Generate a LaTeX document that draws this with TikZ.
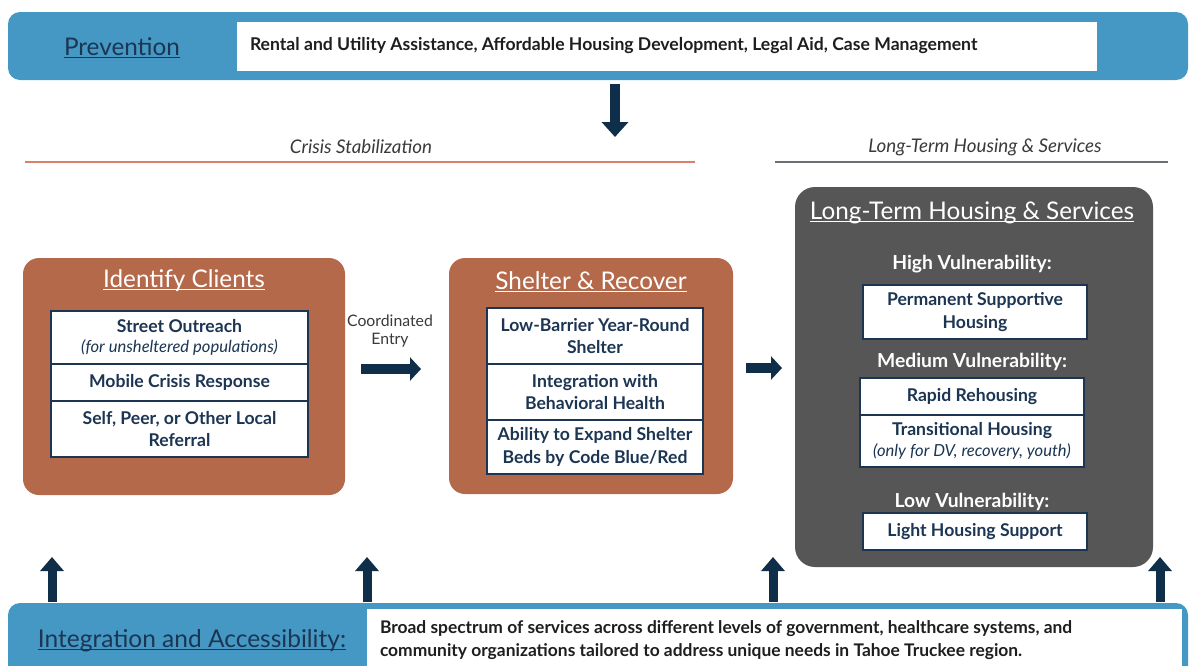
\documentclass[tikz,border=0pt]{standalone}
\usepackage{fontspec}
\setmainfont{Lato}
\usetikzlibrary{arrows.meta}
\definecolor{barblue}{HTML}{4598C3}
\definecolor{stagebrown}{HTML}{B5694B}
\definecolor{ltgray}{HTML}{565656}
\definecolor{navy}{HTML}{1C3553}
\definecolor{arrownavy}{HTML}{0E2E4A}
\definecolor{crisisline}{HTML}{D9806A}
\definecolor{ltline}{HTML}{6B7075}
\definecolor{hdrtext}{HTML}{3A3A3A}
\definecolor{bodytext}{HTML}{1E1E1E}
\newcommand\cellfnt{\bfseries\fontsize{17.6}{22.5}\selectfont}
\newcommand\subfnt{\itshape\mdseries\fontsize{16.6}{20}\selectfont}
\newcommand\titlefnt{\fontsize{24.3}{28}\selectfont}
\newcommand\myul[1]{\underline{\smash{#1}}\vphantom{#1}}
\begin{document}
\begin{tikzpicture}[x=1pt,y=-1pt,
  every node/.style={inner sep=0pt, outer sep=0pt},
  bar/.style={fill=barblue, rounded corners=12pt},
  stagebox/.style={fill=stagebrown, rounded corners=16pt},
  ltbox/.style={fill=ltgray, rounded corners=20pt},
  cell/.style={draw=navy, line width=1.3pt, fill=white, align=center, text=navy, font=\cellfnt, anchor=north west},
  whitebox/.style={fill=white},
  stagetitle/.style={text=white, font=\titlefnt},
  vulnlabel/.style={text=white, font=\bfseries\fontsize{19.3}{22}\selectfont},
  sechdr/.style={text=hdrtext, font=\itshape\fontsize{18.8}{22}\selectfont},
  vblock/.style={draw=arrownavy, line width=9pt, -{Triangle[width=23pt,length=14pt]}},
  hblock/.style={draw=arrownavy, line width=10pt, -{Triangle[width=23pt,length=11pt]}}
]
\path[use as bounding box, clip] (0,0) rectangle (1190,665);
\fill[white] (0,0) rectangle (1190,665);

% Prevention bar
\fill[bar] (8,12) rectangle (1188,80);
\fill[whitebox] (237,22) rectangle (1097,71);
\node[text=navy, font=\titlefnt] (prev) at (122,48) {\myul{Prevention}};
\node[anchor=west, text=bodytext, font=\bfseries\fontsize{17.6}{20}\selectfont] (prevtxt) at (250,46) {Rental and Utility Assistance, Affordable Housing Development, Legal Aid, Case Management};

% down arrow
\coordinate (dtop) at (615,84);
\coordinate (dbot) at (615,137);
\draw[vblock, line width=10pt, -{Triangle[width=26pt,length=15pt]}] (dtop) -- (dbot);

% section headers
\node[sechdr] (crisis) at (361,147) {Crisis Stabilization};
\draw[crisisline, line width=2pt] (25,162) -- (695,162);
\node[sechdr] (lthdr) at (985,147) {Long-Term Housing \& Services};
\draw[ltline, line width=2pt] (775,162) -- (1168,162);

% Identify Clients
\fill[stagebox] (23,258) rectangle (345,495);
\node[stagetitle] (ictitle) at (184,281) {\myul{Identify Clients}};
\node[cell, minimum width=257pt, minimum height=53pt] (ic1) at (51,311) {Street Outreach\\[-2pt]{\subfnt (for unsheltered populations)}};
\node[cell, minimum width=257pt, minimum height=37pt] (ic2) at (51,364) {Mobile Crisis Response};
\node[cell, minimum width=257pt, minimum height=56pt] (ic3) at (51,401) {Self, Peer, or Other Local\\Referral};

% Coordinated entry
\node[text=hdrtext, align=center, font=\fontsize{15.8}{18.5}\selectfont] (ce) at (390,331) {Coordinated\\Entry};
\coordinate (ce1) at (361,369);
\coordinate (ce2) at (421,369);
\draw[hblock] (ce1) -- (ce2);

% Shelter & Recover
\fill[stagebox] (449,258) rectangle (733,494);
\node[stagetitle] (srtitle) at (591,282) {\myul{Shelter \& Recover}};
\node[cell, minimum width=216pt, minimum height=56pt] (sr1) at (487,308) {Low-Barrier Year-Round\\Shelter};
\node[cell, minimum width=216pt, minimum height=56pt] (sr2) at (487,364) {Integration with\\Behavioral Health};
\node[cell, minimum width=216pt, minimum height=54pt] (sr3) at (487,420) {Ability to Expand Shelter\\Beds by Code Blue/Red};

\coordinate (a2s) at (746,368);
\coordinate (a2e) at (782,368);
\draw[hblock] (a2s) -- (a2e);

% Long-term
\fill[ltbox] (795,187) rectangle (1153,567);
\node[stagetitle] (lttitle) at (972,213) {\myul{Long-Term Housing \& Services}};
\node[vulnlabel] (hv) at (972,264) {High Vulnerability:};
\node[cell, minimum width=224pt, minimum height=54pt] (psh) at (863,285) {Permanent Supportive\\Housing};
\node[vulnlabel] (mv) at (972,362) {Medium Vulnerability:};
\node[cell, minimum width=224pt, minimum height=37pt] (rr) at (860,378) {Rapid Rehousing};
\node[cell, minimum width=224pt, minimum height=52pt] (th) at (860,415) {Transitional Housing\\[-2pt]{\subfnt (only for DV, recovery, youth)}};
\node[vulnlabel] (lv) at (972,502) {Low Vulnerability:};
\node[cell, minimum width=224pt, minimum height=37pt] (lhs) at (863,513) {Light Housing Support};

% bottom bar
\fill[bar] (8,603) rectangle (1188,700);
\fill[whitebox] (367,609) rectangle (1182,700);
\node[text=navy, font=\fontsize{24.5}{28}\selectfont] (integ) at (192,641) {\myul{Integration and Accessibility:}};
\node[anchor=west, align=left, text=bodytext, font=\bfseries\fontsize{17.4}{23}\selectfont] (integtxt) at (380,640) {Broad spectrum of services across different levels of government, healthcare systems, and\\community organizations tailored to address unique needs in Tahoe Truckee region.};

% up arrows
\foreach \xx/\nm in {52/u1, 367/u2, 773/u3, 1160/u4} {
  \coordinate (\nm b) at (\xx,602);
  \coordinate (\nm t) at (\xx,557);
  \draw[vblock] (\nm b) -- (\nm t);
}
\end{tikzpicture}
\end{document}
